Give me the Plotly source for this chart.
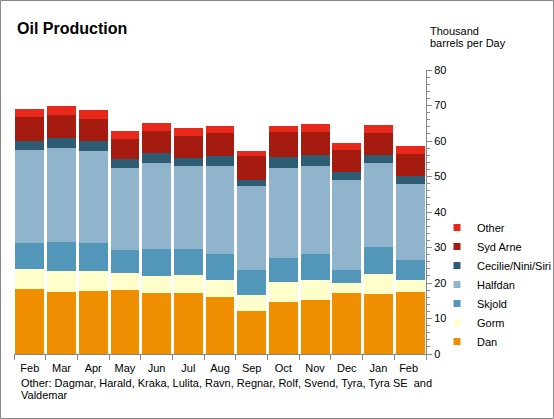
import plotly.graph_objects as go

months = ["Feb", "Mar", "Apr", "May", "Jun", "Jul", "Aug", "Sep", "Oct", "Nov", "Dec", "Jan", "Feb "]
dan      = [18.3, 17.5, 17.7, 18.0, 17.2, 17.2, 16.1, 12.1, 14.6, 15.2, 17.2, 16.9, 17.5]
gorm     = [5.6, 5.9, 5.7, 4.8, 4.8, 5.1, 4.7, 4.5, 5.7, 5.6, 2.8, 5.6, 3.3]
skjold   = [7.4, 8.1, 7.9, 6.5, 7.6, 7.3, 7.4, 7.1, 6.7, 7.4, 3.7, 7.6, 5.7]
halfdan  = [26.2, 26.5, 25.9, 23.1, 24.2, 23.4, 24.8, 23.6, 25.4, 24.8, 25.3, 23.7, 21.4]
cecilie  = [2.5, 2.8, 2.8, 2.5, 2.8, 2.2, 2.8, 1.7, 3.1, 3.0, 2.3, 2.3, 2.2]
syd_arne = [6.8, 6.5, 6.2, 5.7, 6.2, 6.2, 6.5, 6.8, 7.0, 6.5, 6.2, 6.2, 6.2]
other    = [2.2, 2.6, 2.5, 2.2, 2.3, 2.3, 1.9, 1.4, 1.7, 2.3, 1.9, 2.2, 2.3]

series_names = ["Dan", "Gorm", "Skjold", "Halfdan", "Cecilie/Nini/Siri", "Syd Arne", "Other"]
series_vals = [dan, gorm, skjold, halfdan, cecilie, syd_arne, other]
colors = ["#EF8F00", "#FFFFCC", "#5297B9", "#8FB4CB", "#2D5C73", "#A61B10", "#E8281A"]

FONT = "Liberation Sans, Arial, sans-serif"

fig = go.Figure()
for name, vals, col in zip(series_names, series_vals, colors):
    fig.add_trace(go.Bar(x=months, y=vals, name=name, marker=dict(color=col, line=dict(width=0)),
                         showlegend=False))
for name, col in zip(series_names, colors):
    fig.add_trace(go.Scatter(x=[None], y=[None], mode="markers", name=name,
                             marker=dict(symbol="square", size=7, color=col)))

W, H = 554, 419
L, R, T, B = 14, 128, 70, 65
pw, ph = W - L - R, H - T - B

def px_x(p):
    return (p - L) / pw

def px_y(p):
    return (H - B - p) / ph

fig.update_layout(
    width=W, height=H,
    margin=dict(l=L, r=R, t=T, b=B, autoexpand=False),
    barmode="stack", bargap=0.09,
    paper_bgcolor="white", plot_bgcolor="white",
    font=dict(family=FONT, size=11, color="#000000"),
    title=dict(text="<b>Oil Production</b>", x=17 / W, xanchor="left", xref="container",
               y=1 - 28 / H, yanchor="middle", yref="container",
               font=dict(size=16, family=FONT, color="#000000")),
    showlegend=True,
    legend=dict(traceorder="reversed", xref="container", yref="container",
                x=437 / W, xanchor="left", y=1 - 213 / H, yanchor="top",
                font=dict(size=11), itemwidth=30, bgcolor="rgba(0,0,0,0)", tracegroupgap=0),
    xaxis=dict(showgrid=False, showline=True, linecolor="#888888", linewidth=1,
               ticks="outside", tickson="boundaries", ticklen=5, tickcolor="#888888",
               tickfont=dict(size=11), tickangle=0, ticklabelstandoff=4, zeroline=False),
    yaxis=dict(side="right", range=[0, 80], dtick=10, showgrid=False, showline=True,
               linecolor="#888888", linewidth=1, ticks="outside", ticklen=5, tickcolor="#888888",
               minor=dict(dtick=2, ticks="outside", ticklen=3, tickcolor="#888888"),
               tickfont=dict(size=11), zeroline=False),
    shapes=[dict(type="rect", xref="paper", yref="paper",
                 x0=px_x(0.5), x1=px_x(553.5), y0=px_y(418.5), y1=px_y(0.5),
                 line=dict(color="#888888", width=1), fillcolor="rgba(0,0,0,0)", layer="below")],
    annotations=[
        dict(text="Thousand", xref="paper", yref="paper", x=px_x(428), y=px_y(31.5),
             xanchor="left", yanchor="middle", showarrow=False, font=dict(size=11)),
        dict(text="barrels per Day", xref="paper", yref="paper", x=px_x(428), y=px_y(43.3),
             xanchor="left", yanchor="middle", showarrow=False, font=dict(size=11)),
        dict(text="Other: Dagmar, Harald, Kraka, Lulita, Ravn, Regnar, Rolf, Svend, Tyra, Tyra SE  and",
             xref="paper", yref="paper", x=px_x(19), y=px_y(383), xanchor="left", yanchor="middle",
             showarrow=False, font=dict(size=11)),
        dict(text="Valdemar", xref="paper", yref="paper", x=px_x(19), y=px_y(395),
             xanchor="left", yanchor="middle", showarrow=False, font=dict(size=11)),
    ],
)

fig.write_html("out.html", config={"displayModeBar": False},
               post_script="document.body.style.margin='0';")
